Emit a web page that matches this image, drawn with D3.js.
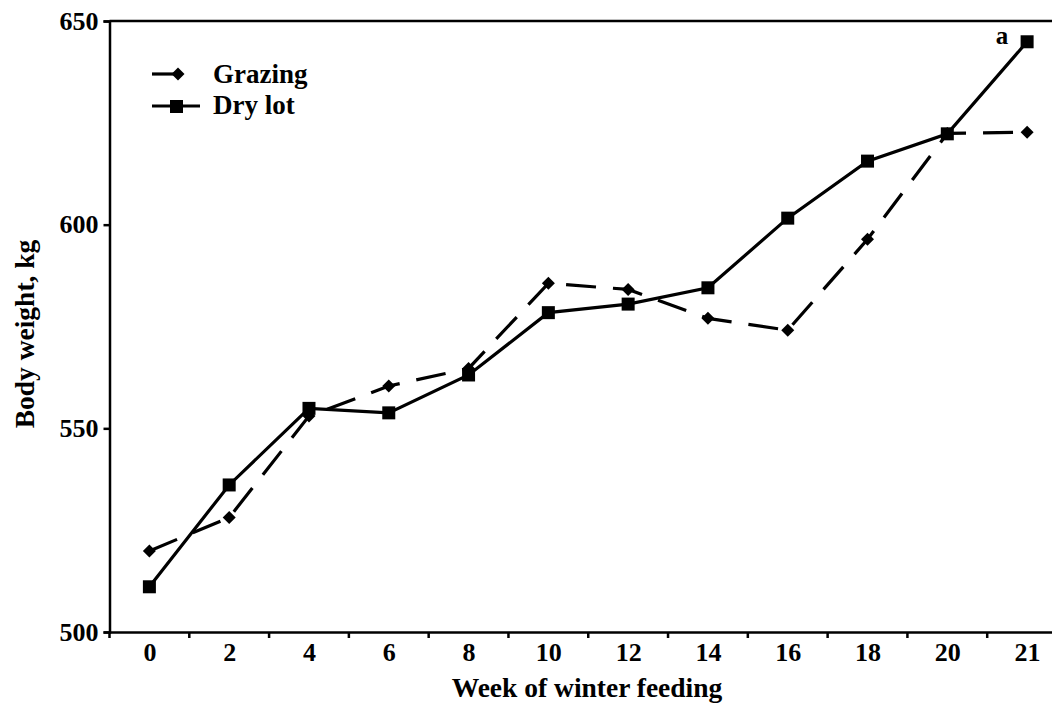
<!DOCTYPE html>
<html>
<head>
<meta charset="utf-8">
<script src="https://cdn.jsdelivr.net/npm/d3@7/dist/d3.min.js"></script>
<style>
  body { margin: 0; background: #fff; }
  svg { display: block; }
  text { font-family: "Liberation Serif", "Times New Roman", serif; font-weight: bold; fill: #000; }
</style>
</head>
<body>
<script>
// weeks of winter feeding (categorical, evenly spaced)
var weeks = ["0", "2", "4", "6", "8", "10", "12", "14", "16", "18", "20", "21"];
// body weight, kg
var grazing = [519.9, 528.1, 553.0, 560.4, 564.7, 585.6, 584.1, 577.0, 574.1, 596.4, 622.4, 622.7];
var drylot  = [511.1, 536.1, 554.9, 553.8, 563.1, 578.4, 580.5, 584.5, 601.6, 615.6, 622.3, 644.9];
var yTicks = [500, 550, 600, 650];

var width = 1052, height = 703;
var plotLeft = 109.5, plotRight = 1067, plotTop = 21, plotBottom = 632;

var svg = d3.select("body").append("svg")
  .attr("width", width).attr("height", height);

var x = d3.scalePoint().domain(weeks).range([plotLeft, plotRight]).padding(0.5);
var y = d3.scaleLinear().domain([500, 650]).range([plotBottom, plotTop]);

// top frame line
svg.append("line")
  .attr("x1", plotLeft).attr("x2", plotRight)
  .attr("y1", y(650)).attr("y2", y(650))
  .style("stroke", "#000").style("stroke-width", 2.5);

// x axis: labels at the points, ticks on the boundaries
var xAxis = svg.append("g")
  .attr("transform", "translate(0," + plotBottom + ")")
  .call(d3.axisBottom(x).tickSize(0).tickPadding(11));
xAxis.select(".domain").style("stroke", "#000").style("stroke-width", 2.5);
xAxis.selectAll("text").style("font-size", "26px");

var step = x.step();
var bounds = weeks.map(function(w) { return x(w) - step / 2; });
svg.selectAll(".xtick")
  .data(bounds)
  .enter()
  .append("line")
  .attr("class", "xtick")
  .attr("x1", function(d) { return d; }).attr("x2", function(d) { return d; })
  .attr("y1", plotBottom).attr("y2", plotBottom + 6)
  .style("stroke", "#000").style("stroke-width", 2.5);

// y axis
var yAxis = svg.append("g")
  .attr("transform", "translate(" + plotLeft + ",0)")
  .call(d3.axisLeft(y).tickValues(yTicks).tickSize(6).tickPadding(5));
yAxis.select(".domain").style("stroke", "#000").style("stroke-width", 2.5);
yAxis.selectAll(".tick line").style("stroke", "#000").style("stroke-width", 2.5);
yAxis.selectAll("text").style("font-size", "26px");

// axis titles
svg.append("text")
  .attr("x", 587).attr("y", 697)
  .style("text-anchor", "middle").style("font-size", "27.5px")
  .text("Week of winter feeding");

svg.append("text")
  .attr("transform", "translate(34,334) rotate(-90)")
  .style("text-anchor", "middle").style("font-size", "27.5px")
  .text("Body weight, kg");

var line = d3.line()
  .x(function(d, i) { return x(weeks[i]); })
  .y(function(d) { return y(d); });

// grazing (dashed, diamonds)
svg.append("path")
  .datum(grazing)
  .attr("d", line)
  .style("fill", "none").style("stroke", "#000")
  .style("stroke-width", 3.2).style("stroke-dasharray", "30,17");

// square turned 45 degrees, as in the figure
var diamond = "M0,-6.5L6.5,0L0,6.5L-6.5,0Z";
svg.selectAll(".gpt")
  .data(grazing)
  .enter()
  .append("path")
  .attr("class", "gpt")
  .attr("d", diamond)
  .attr("transform", function(d, i) { return "translate(" + x(weeks[i]) + "," + y(d) + ")"; })
  .style("fill", "#000");

// dry lot (solid, squares)
svg.append("path")
  .datum(drylot)
  .attr("d", line)
  .style("fill", "none").style("stroke", "#000").style("stroke-width", 3.2);

svg.selectAll(".dpt")
  .data(drylot)
  .enter()
  .append("rect")
  .attr("class", "dpt")
  .attr("x", function(d, i) { return x(weeks[i]) - 6.5; })
  .attr("y", function(d) { return y(d) - 6.5; })
  .attr("width", 13).attr("height", 13)
  .style("fill", "#000");

// significance mark
svg.append("text")
  .attr("x", x("21") - 25).attr("y", y(drylot[11]) + 2)
  .style("text-anchor", "middle").style("font-size", "25px")
  .text("a");

// legend
var legend = svg.append("g");
legend.append("line")
  .attr("x1", 152).attr("x2", 180).attr("y1", 74).attr("y2", 74)
  .style("stroke", "#000").style("stroke-width", 3.2);
legend.append("path")
  .attr("d", diamond)
  .attr("transform", "translate(178,74)")
  .style("fill", "#000");
legend.append("text")
  .attr("x", 213).attr("y", 83).style("font-size", "27px")
  .text("Grazing");

legend.append("line")
  .attr("x1", 152).attr("x2", 200).attr("y1", 106).attr("y2", 106)
  .style("stroke", "#000").style("stroke-width", 3.2);
legend.append("rect")
  .attr("x", 170).attr("y", 100).attr("width", 13).attr("height", 13)
  .style("fill", "#000");
legend.append("text")
  .attr("x", 213).attr("y", 114).style("font-size", "27px")
  .text("Dry lot");
</script>
</body>
</html>
